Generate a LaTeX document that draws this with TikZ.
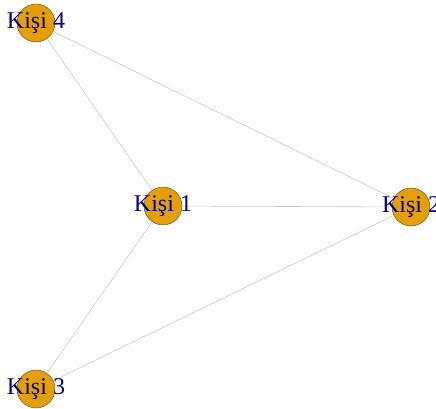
\documentclass[tikz,border=0pt]{standalone}
\usepackage{fontspec}
\setmainfont{Liberation Serif}
\definecolor{vfill}{HTML}{E69F00}
\definecolor{vlab}{HTML}{00008B}
\definecolor{edgec}{HTML}{C8C8C8}
\begin{document}
\begin{tikzpicture}[x=1pt,y=1pt,
  vert/.style={circle,draw=black!70,line width=0.4pt,fill=vfill,minimum size=38pt,inner sep=0pt},
  lab/.style={text=vlab,font=\fontsize{24}{24}\selectfont,inner sep=0pt},
  edge/.style={draw=edgec,line width=0.6pt}]
\useasboundingbox (0,0) rectangle (436,409);
\node[vert] (n4) at (36,386) {};
\node[vert] (n1) at (163,203) {};
\node[vert] (n2) at (411,202) {};
\node[vert] (n3) at (36,20) {};
\draw[edge] (n4) -- (n1);
\draw[edge] (n4) -- (n2);
\draw[edge] (n1) -- (n2);
\draw[edge] (n1) -- (n3);
\draw[edge] (n3) -- (n2);
\node[lab] (l4) at (n4.center) {Kişi 4};
\node[lab] (l1) at (n1.center) {Kişi 1};
\node[lab] (l2) at (n2.center) {Kişi 2};
\node[lab] (l3) at (n3.center) {Kişi 3};
\end{tikzpicture}
\end{document}
